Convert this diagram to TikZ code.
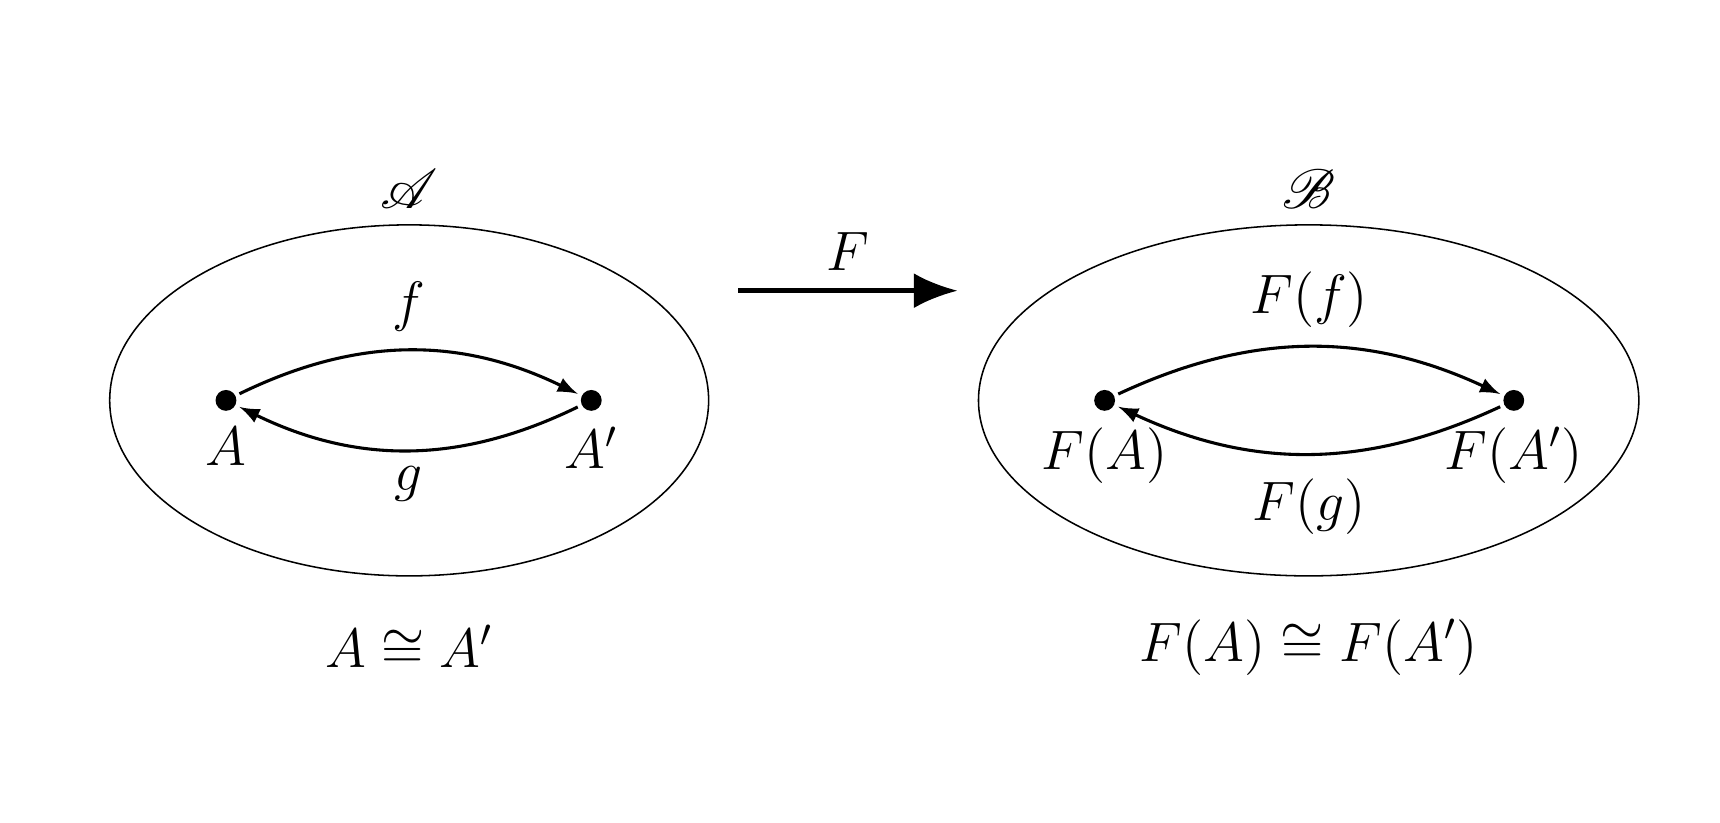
\documentclass[tikz,border=0pt]{standalone}
\usepackage{amsmath}
\usepackage{amssymb}
\usepackage{mathrsfs}
\usetikzlibrary{arrows, arrows.meta, positioning}

\begin{document}
\begin{tikzpicture}[
    every node/.style={font=\fontsize{14.5}{17}\selectfont},
    obj/.style={circle, fill=black, inner sep=0pt, minimum size=0.19cm},
    morph/.style={-latex, thick, shorten <=1pt, shorten >=1pt},
    functor/.style={-{Latex[length=0.4cm,width=0.32cm]}, line width=1.2pt}
]
    \useasboundingbox (0,0) rectangle (15.68,7.5);

    % Categories
    \draw (3.73,3.85) ellipse (2.73 and 1.6);
    \draw (11.93,3.85) ellipse (3.01 and 1.6);
    \node (catA) at (3.73,5.78) {$\mathscr{A}$};
    \node (catB) at (11.93,5.78) {$\mathscr{B}$};

    % Objects
    \node [obj] (a) at (2.06,3.85) {};
    \node [obj] (ap) at (5.39,3.85) {};
    \node [below=0.02cm of a] {$A$};
    \node [below=0.02cm of ap] {$A'$};

    \node [obj] (fa) at (10.07,3.85) {};
    \node [obj] (fap) at (13.80,3.85) {};
    \node [below=0.02cm of fa] {$F(A)$};
    \node [below=0.02cm of fap] {$F(A')$};

    % Morphisms
    \draw [morph] (a) to [bend left=26] node [above=0.05cm] {$f$} (ap);
    \draw [morph] (ap) to [bend left=26] node [below=0.02cm] {$g$} (a);
    \draw [morph] (fa) to [bend left=25] node [above=0.05cm] {$F(f)$} (fap);
    \draw [morph] (fap) to [bend left=25] node [below=0.1cm] {$F(g)$} (fa);

    % Functor
    \coordinate (fs) at (6.73,4.85);
    \coordinate (ft) at (8.73,4.85);
    \draw [functor] (fs) -- node [above=0.05cm] {$F$} (ft);

    % Isomorphisms
    \node (isoA) at (3.73,1.6) {$A \cong A'$};
    \node (isoB) at (11.93,1.6) {$F(A) \cong F(A')$};
\end{tikzpicture}
\end{document}
